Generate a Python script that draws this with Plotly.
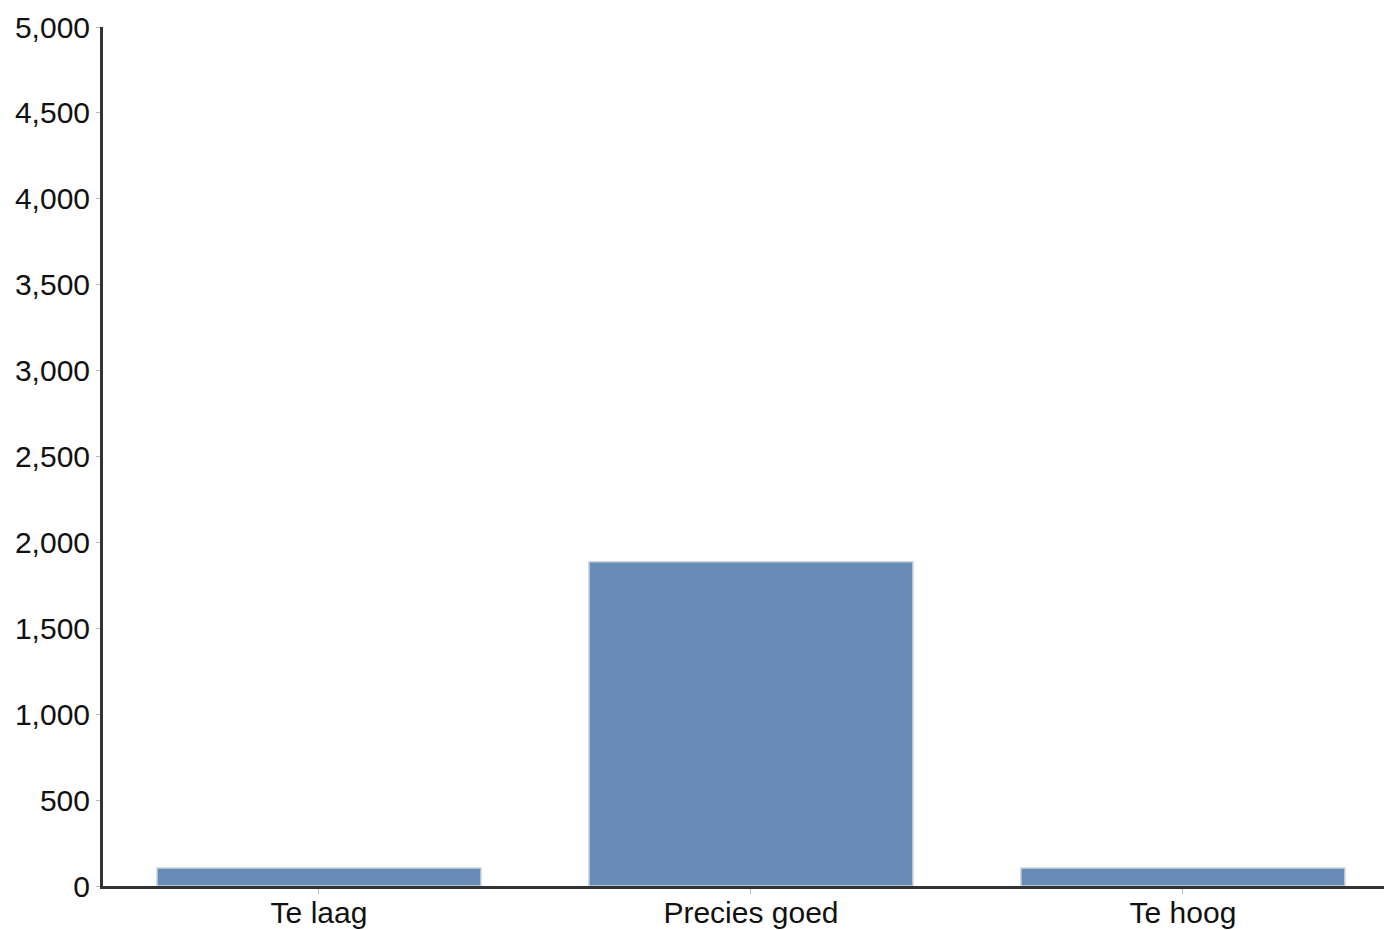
import plotly.graph_objects as go

categories = ["Te laag", "Precies goed", "Te hoog"]
values = [105, 1888, 105]
y_ticks = [0, 500, 1000, 1500, 2000, 2500, 3000, 3500, 4000, 4500, 5000]

fig = go.Figure(go.Bar(
    x=categories, y=values, width=0.75,
    marker=dict(color="#688cb5", line=dict(color="#c9d3df", width=1.5)),
))

font = dict(family="Liberation Sans, Arial, sans-serif", size=30, color="#111111")
fig.update_layout(
    width=1384, height=922,
    margin=dict(l=95, r=0, t=19, b=44, autoexpand=False),
    plot_bgcolor="white", paper_bgcolor="white",
    font=font, showlegend=False, bargap=0.25,
)
fig.update_xaxes(
    range=[-0.5, 2.484], showline=True, linecolor="#333333", linewidth=3,
    ticks="outside", ticklen=5, tickcolor="#bbbbbb", tickwidth=1,
    showgrid=False, zeroline=False, tickfont=font, ticklabelstandoff=-7,
)
fig.update_yaxes(
    range=[0, 5000], tickvals=y_ticks, tickformat=",d",
    showline=True, linecolor="#333333", linewidth=3,
    ticks="outside", ticklen=4, tickcolor="#bbbbbb", tickwidth=1,
    showgrid=False, zeroline=False, tickfont=font, ticklabelstandoff=0,
)
fig.write_html("out.html")
